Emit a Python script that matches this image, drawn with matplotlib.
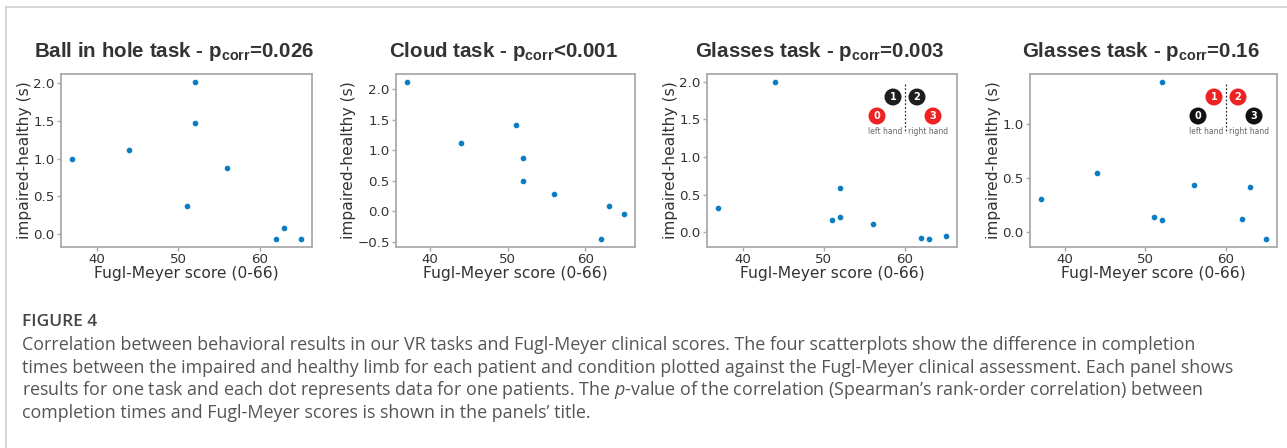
import matplotlib
matplotlib.use("Agg")
import matplotlib.pyplot as plt
from matplotlib.patches import Ellipse
from matplotlib.lines import Line2D

# ---- data ----
fugl_meyer = [37, 44, 51, 52, 52, 56, 62, 63, 65]
ball_in_hole = [1.00, 1.12, 0.37, 2.02, 1.47, 0.88, -0.07, 0.08, -0.07]
cloud = [2.12, 1.11, 1.42, 0.87, 0.50, 0.28, -0.46, 0.09, -0.05]
glasses_a = [0.33, 2.00, 0.17, 0.59, 0.20, 0.11, -0.07, -0.09, -0.045]
glasses_b = [0.30, 0.54, 0.137, 1.39, 0.11, 0.43, 0.12, 0.41, -0.07]
series = [ball_in_hole, cloud, glasses_a, glasses_b]
title_names = ["Ball in hole task - p", "Cloud task - p", "Glasses task - p", "Glasses task - p"]
title_pvals = ["=0.026", "<0.001", "=0.003", "=0.16"]
xlabel = "Fugl-Meyer score (0-66)"
ylabel = "impaired-healthy (s)"

plt.rcParams['mathtext.fontset'] = 'custom'
plt.rcParams['mathtext.rm'] = 'Open Sans'
plt.rcParams['mathtext.it'] = 'Open Sans:italic'

W, H = 1287, 448
fig = plt.figure(figsize=(W / 100, H / 100), dpi=100)

def fx(px):
    return px / W

def fy(py):
    return 1 - py / H

# frame lines
fig.add_artist(Line2D([fx(6), 1], [fy(7), fy(7)], color='#d0d0d0', lw=1.2))
fig.add_artist(Line2D([fx(6), fx(6)], [fy(7), 0], color='#d0d0d0', lw=1.2))

axes_px = [(61, 312), (396, 635), (707, 957), (1030, 1277)]
top_px, bot_px = 74, 247
dot_color = '#0a7dc2'
text_color = '#333333'

axes = []
for i, (l, r) in enumerate(axes_px):
    ax = fig.add_axes([fx(l), fy(bot_px), fx(r - l), (bot_px - top_px) / H])
    ax.scatter(fugl_meyer, series[i], s=20, color=dot_color, edgecolor='white', linewidth=0.4, zorder=3)
    ax.set_xticks([40, 50, 60])
    for sp in ax.spines.values():
        sp.set_color('#aaaaaa')
        sp.set_linewidth(1.3)
    ax.tick_params(length=3, width=1, color='#aaaaaa', pad=1.5, labelsize=9.6, labelcolor=text_color)
    ax.set_xlabel(xlabel, fontsize=11.2, color=text_color, labelpad=0)
    ax.set_ylabel(ylabel, fontsize=11.2, color=text_color, labelpad=1)
    title = title_names[i] + r"$_{\mathregular{corr}}$" + title_pvals[i]
    ax.set_title(title, fontsize=14.8, fontweight='bold', family='Liberation Sans',
                 color=text_color, x=0.45, pad=12)
    axes.append(ax)

axes[0].set_yticks([0.0, 0.5, 1.0, 1.5, 2.0])
axes[1].set_yticks([-0.5, 0.0, 0.5, 1.0, 1.5, 2.0])
axes[2].set_yticks([0.0, 0.5, 1.0, 1.5, 2.0])
axes[3].set_yticks([0.0, 0.5, 1.0])

# hand/glass illustration insets
def inset(cx, colors_top, colors_bottom):
    r = 8.5
    specs = [(-12, 97, '1', colors_top), (12, 97, '2', colors_top),
             (-28, 116, '0', colors_bottom), (28, 116, '3', colors_bottom)]
    for dx, y, lab, c in specs:
        fig.add_artist(Ellipse((fx(cx + dx), fy(y)), 2 * r / W, 2 * r / H,
                               transform=fig.transFigure, facecolor=c, edgecolor='none'))
        fig.text(fx(cx + dx), fy(y), lab, color='white', fontsize=7, fontweight='bold',
                 ha='center', va='center')
    fig.add_artist(Line2D([fx(cx), fx(cx)], [fy(84), fy(133)], color='#333333', lw=0.9,
                          linestyle=(0, (1.5, 1.5))))
    fig.text(fx(cx - 3), fy(131), 'left hand', fontsize=5.5, color='#666666', ha='right', va='center')
    fig.text(fx(cx + 3), fy(131), 'right hand', fontsize=5.5, color='#666666', ha='left', va='center')

inset(905, '#1e1e1e', '#ee2222')
inset(1226, '#ee2222', '#111111')

# caption
cap_color = '#555555'
fig.text(fx(22), fy(322), 'FIGURE 4', fontsize=12.5, color='#444444', family='Open Sans',
         fontweight='semibold', va='center')
cap_lines = [
    "Correlation between behavioral results in our VR tasks and Fugl-Meyer clinical scores. The four scatterplots show the difference in completion",
    "times between the impaired and healthy limb for each patient and condition plotted against the Fugl-Meyer clinical assessment. Each panel shows",
    r"results for one task and each dot represents data for one patients. The $\mathit{p}$-value of the correlation (Spearman’s rank-order correlation) between",
    "completion times and Fugl-Meyer scores is shown in the panels’ title.",
]
for k, line in enumerate(cap_lines):
    fig.text(fx(22), fy(345 + 22.7 * k), line, fontsize=12.9, color=cap_color,
             family='Open Sans', va='center')

fig.savefig('out.png', dpi=100)
